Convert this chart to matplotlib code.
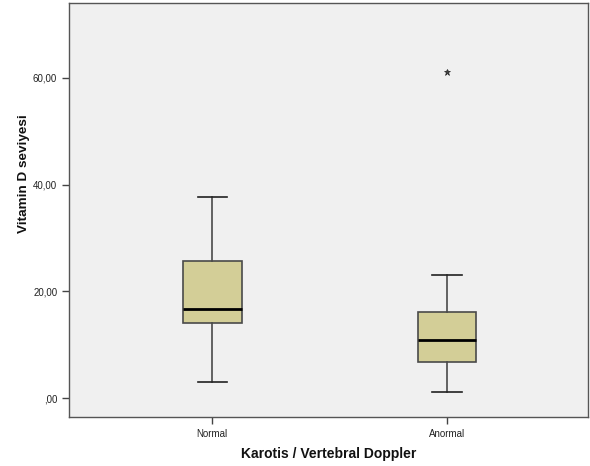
import matplotlib
matplotlib.use("Agg")
import matplotlib.pyplot as plt
from matplotlib.ticker import FuncFormatter

plt.rcParams['font.family'] = ['Liberation Sans', 'DejaVu Sans']

# box statistics
groups = ["Normal", "Anormal"]
whisker_low = [3.0, 1.1]
q1 = [14.1, 6.75]
median = [16.7, 10.9]
q3 = [25.7, 16.1]
whisker_high = [37.7, 23.1]
outliers = [[], [61.1]]

stats = []
for i, name in enumerate(groups):
    stats.append({
        "label": name,
        "whislo": whisker_low[i],
        "q1": q1[i],
        "med": median[i],
        "q3": q3[i],
        "whishi": whisker_high[i],
        "fliers": outliers[i],
    })

fig = plt.figure(figsize=(5.9, 4.66), dpi=100)
ax = fig.add_axes([69 / 590, 49 / 466, 519 / 590, 414 / 466])
ax.set_facecolor("#F0F0F0")

ax.bxp(stats, positions=[1, 2], widths=0.25, patch_artist=True,
       boxprops=dict(facecolor="#D3CE97", edgecolor="#4a4a4a", linewidth=1.2),
       medianprops=dict(color="black", linewidth=2),
       whiskerprops=dict(color="#4a4a4a", linewidth=1.2),
       capprops=dict(color="#222222", linewidth=1.2),
       flierprops=dict(marker="*", markersize=5, markerfacecolor="#444444",
                       markeredgecolor="#222222", markeredgewidth=0.5,
                       linestyle="none"))

ax.set_xlim(0.39, 2.6)
ax.set_ylim(-3.5, 74)
ax.set_yticks([0, 20, 40, 60])
ax.yaxis.set_major_formatter(FuncFormatter(
    lambda v, p: ",00" if v == 0 else f"{v:.2f}".replace(".", ",")))

ax.tick_params(axis="both", direction="out", length=5, width=1,
               color="#444444", labelsize=7, labelcolor="#222222")
for s in ax.spines.values():
    s.set_color("#555555")
    s.set_linewidth(1)

ax.set_xlabel("Karotis / Vertebral Doppler", fontsize=10, fontweight="bold",
              labelpad=6, color="#111111")
ax.set_ylabel("Vitamin D seviyesi", fontsize=9.7, fontweight="bold",
              color="#111111")
ax.yaxis.set_label_coords(-0.075, 0.587)

fig.savefig("out.png", dpi=100)
